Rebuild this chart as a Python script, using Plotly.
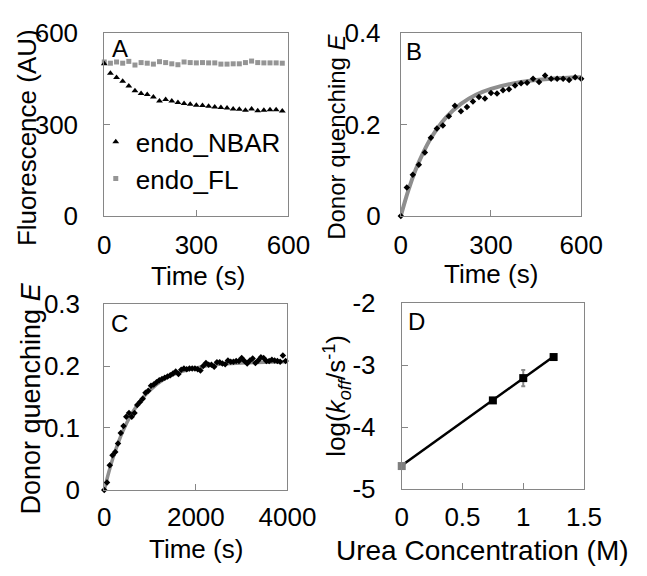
import plotly.graph_objects as go

# ---------------- data ----------------
# Panel A
a_time = [0, 20, 40, 60, 80, 100, 120, 140, 160, 180, 200, 220, 240, 260, 280,
          300, 320, 340, 360, 380, 400, 420, 440, 460, 480, 500, 520, 540, 560, 580]
a_nbar = [499, 468, 454, 442, 426, 411, 402, 398, 390, 377, 382, 377, 372, 369, 366,
          363, 362, 360, 357, 356, 354, 351, 350, 347, 351, 345, 347, 348, 348, 344]
a_fl = [505, 501, 505, 501, 507, 495, 503, 501, 498, 506, 503, 499, 496, 505, 503,
        502, 503, 502, 502, 498, 498, 499, 499, 503, 508, 503, 502, 502, 502, 501]
a_xticks = [0, 300, 600]
a_yticks = [0, 300, 600]

# Panel B
b_time = [0, 20, 40, 60, 80, 100, 120, 140, 160, 180, 200, 220, 240, 260, 280, 300,
          320, 340, 360, 380, 400, 420, 440, 460, 480, 500, 520, 540, 560, 580, 600]
b_e = [0, 0.062, 0.090, 0.112, 0.139, 0.171, 0.191, 0.198, 0.218, 0.241, 0.229,
       0.238, 0.250, 0.260, 0.257, 0.269, 0.268, 0.275, 0.277, 0.285, 0.290, 0.291,
       0.300, 0.293, 0.307, 0.300, 0.300, 0.300, 0.297, 0.303, 0.300]
b_fit_t = [0, 25, 50, 75, 100, 150, 200, 250, 300, 400, 500, 600]
b_fit_e = [0, 0.056, 0.102, 0.139, 0.170, 0.215, 0.245, 0.265, 0.278, 0.293, 0.300, 0.303]
b_xticks = [0, 300, 600]
b_yticks = [0, 0.2, 0.4]
b_yticktext = ["0", "0.2", "0.4"]

# Panel C
c_time = [0, 60, 120, 180, 240, 300, 360, 420, 480, 540, 600, 660, 720, 780, 840,
          900, 960, 1020, 1080, 1140, 1200, 1260, 1320, 1380, 1440, 1500, 1560, 1620,
          1680, 1740, 1800, 1860, 1920, 1980, 2040, 2100, 2160, 2220, 2280, 2340, 2400,
          2460, 2520, 2580, 2640, 2700, 2760, 2820, 2880, 2940, 3000, 3060, 3120, 3180,
          3240, 3300, 3360, 3420, 3480, 3540, 3600, 3660, 3720, 3780, 3840, 3900, 3960]
c_e = [0, 0.012, 0.040, 0.056, 0.061, 0.075, 0.092, 0.103, 0.118, 0.124, 0.118, 0.124,
       0.137, 0.142, 0.147, 0.157, 0.160, 0.168, 0.170, 0.174, 0.177, 0.179, 0.181,
       0.183, 0.185, 0.188, 0.191, 0.187, 0.194, 0.196, 0.195, 0.196, 0.196, 0.196,
       0.195, 0.193, 0.200, 0.205, 0.202, 0.202, 0.199, 0.206, 0.206, 0.204, 0.203,
       0.209, 0.207, 0.207, 0.208, 0.208, 0.213, 0.208, 0.204, 0.209, 0.212, 0.205,
       0.209, 0.214, 0.213, 0.208, 0.208, 0.210, 0.209, 0.208, 0.207, 0.217, 0.208]
c_fit_t = [0, 100, 200, 300, 400, 600, 800, 1000, 1250, 1500, 2000, 2500, 3000, 3500, 3960]
c_fit_e = [0, 0.029, 0.054, 0.075, 0.094, 0.123, 0.145, 0.161, 0.176, 0.186, 0.197,
           0.203, 0.205, 0.206, 0.207]
c_xticks = [0, 2000, 4000]
c_xticktext = ["0", "2000", "4000"]
c_yticks = [0, 0.1, 0.2, 0.3]
c_yticktext = ["0", "0.1", "0.2", "0.3"]

# Panel D
d_urea0 = [0]
d_logk0 = [-4.63]
d_urea = [0.75, 1.0, 1.25]
d_logk = [-3.57, -3.21, -2.87]
d_err = [0, 0.13, 0]
d_fit_x = [0, 1.25]
d_fit_y = [-4.62, -2.86]
d_xticks = [0, 0.5, 1, 1.5]
d_xticktext = ["0", "0.5", "1", "1.5"]
d_yticks = [-5, -4, -3, -2]
d_yticktext = ["-5", "-4", "-3", "-2"]

# ---------------- figure ----------------
W, H = 647, 576
FONT = "Liberation Sans, Arial, sans-serif"
AXC = "#868686"
TICKSIZE = 26


def px_x(p):
    return p / W


def px_y(p):
    return 1 - p / H


fig = go.Figure()

# A
fig.add_trace(go.Scatter(x=a_time, y=a_fl, mode="markers", name="endo_FL",
                         marker=dict(symbol="square", size=5, color="#959595"),
                         xaxis="x", yaxis="y", cliponaxis=False, legendrank=2))
fig.add_trace(go.Scatter(x=a_time, y=a_nbar, mode="markers", name="endo_NBAR",
                         marker=dict(symbol="triangle-up", size=6, color="black"),
                         xaxis="x", yaxis="y", cliponaxis=False, legendrank=1))
# B
fig.add_trace(go.Scatter(x=b_fit_t, y=b_fit_e, mode="lines", showlegend=False,
                         line=dict(color="#8e8e8e", width=4, shape="spline"),
                         xaxis="x2", yaxis="y2", cliponaxis=False))
fig.add_trace(go.Scatter(x=b_time, y=b_e, mode="markers", showlegend=False,
                         marker=dict(symbol="diamond", size=5, color="black"),
                         xaxis="x2", yaxis="y2", cliponaxis=False))
# C
fig.add_trace(go.Scatter(x=c_fit_t, y=c_fit_e, mode="lines", showlegend=False,
                         line=dict(color="#8e8e8e", width=3.5, shape="spline"),
                         xaxis="x3", yaxis="y3", cliponaxis=False))
fig.add_trace(go.Scatter(x=c_time, y=c_e, mode="markers", showlegend=False,
                         marker=dict(symbol="diamond", size=5, color="black"),
                         xaxis="x3", yaxis="y3", cliponaxis=False))
# D
fig.add_trace(go.Scatter(x=d_fit_x, y=d_fit_y, mode="lines", showlegend=False,
                         line=dict(color="black", width=2.5),
                         xaxis="x4", yaxis="y4", cliponaxis=False))
fig.add_trace(go.Scatter(x=d_urea0, y=d_logk0, mode="markers", showlegend=False,
                         marker=dict(symbol="square", size=8, color="#7f7f7f"),
                         xaxis="x4", yaxis="y4", cliponaxis=False))
fig.add_trace(go.Scatter(x=d_urea, y=d_logk, mode="markers", showlegend=False,
                         marker=dict(symbol="square", size=8, color="black"),
                         error_y=dict(type="data", array=d_err, visible=True,
                                      color="#8a8a8a", thickness=2, width=2),
                         xaxis="x4", yaxis="y4", cliponaxis=False))

axis_common = dict(showline=True, linecolor=AXC, linewidth=1, mirror=True,
                   ticks="inside", ticklen=6, tickcolor=AXC, tickwidth=1,
                   showgrid=False, zeroline=False,
                   tickfont=dict(family=FONT, size=TICKSIZE, color="black"),
                   tickmode="array")

fig.update_layout(
    width=W, height=H,
    margin=dict(l=0, r=0, t=0, b=0),
    paper_bgcolor="white", plot_bgcolor="white",
    font=dict(family=FONT, color="black", size=26),
    showlegend=True,
    legend=dict(x=px_x(94), y=px_y(109), xanchor="left", yanchor="top",
                bgcolor="rgba(0,0,0,0)", font=dict(family=FONT, size=26),
                itemwidth=30, tracegroupgap=0),
    xaxis=dict(axis_common, domain=[px_x(103), px_x(298)], range=[0, 600],
               tickvals=a_xticks, anchor="y", ticklabelstandoff=6),
    yaxis=dict(axis_common, domain=[px_y(212), px_y(19)], range=[0, 600],
               tickvals=a_yticks, anchor="x", ticklabelstandoff=20),
    xaxis2=dict(axis_common, domain=[px_x(417), px_x(608)], range=[0, 600],
                tickvals=b_xticks, anchor="y2", ticklabelstandoff=6),
    yaxis2=dict(axis_common, domain=[px_y(212), px_y(19)], range=[0, 0.4],
                tickvals=b_yticks, ticktext=b_yticktext, anchor="x2",
                ticklabelstandoff=14),
    xaxis3=dict(axis_common, domain=[px_x(103), px_x(297)], range=[0, 4000],
                tickvals=c_xticks, ticktext=c_xticktext, anchor="y3",
                ticklabelstandoff=4),
    yaxis3=dict(axis_common, domain=[px_y(501), px_y(305)], range=[0, 0.3],
                tickvals=c_yticks, ticktext=c_yticktext, anchor="x3",
                ticklabelstandoff=18),
    xaxis4=dict(axis_common, domain=[px_x(418), px_x(611)], range=[0, 1.5],
                tickvals=d_xticks, ticktext=d_xticktext, anchor="y4",
                ticklabelstandoff=5),
    yaxis4=dict(axis_common, domain=[px_y(500), px_y(304)], range=[-5, -2],
                tickvals=d_yticks, ticktext=d_yticktext, anchor="x4",
                ticklabelstandoff=20),
)


def note(text, x, y, size=26, angle=0, xanchor="center"):
    fig.add_annotation(text=text, x=px_x(x), y=px_y(y), xref="paper", yref="paper",
                       showarrow=False, textangle=angle, xanchor=xanchor,
                       yanchor="middle", font=dict(family=FONT, size=size, color="black"))


# panel letters
note("A", 109, 35, 24, xanchor="left")
note("B", 420, 39, 24, xanchor="left")
note("C", 108, 325, 24, xanchor="left")
note("D", 423, 323, 24, xanchor="left")

# axis titles
note("Fluorescence (AU)", 22, 129, 26, angle=-90)
note("Time (s)", 202, 275, 26)
note("Donor quenching <i>E</i>", 349, 129, 24, angle=-90)
note("Time (s)", 513, 273, 26)
note("Donor quenching <i>E</i>", 25, 405, 27, angle=-90)
note("Time (s)", 200, 563, 26)
note("log(<i>k</i><sub><i>off</i></sub>/s<sup>-1</sup>)", 349, 402, 26, angle=-90)
note("Urea Concentration (M)", 503, 565, 28)

fig.write_html("out.html", config={"displayModeBar": False},
               post_script="document.body.style.margin='0';")
